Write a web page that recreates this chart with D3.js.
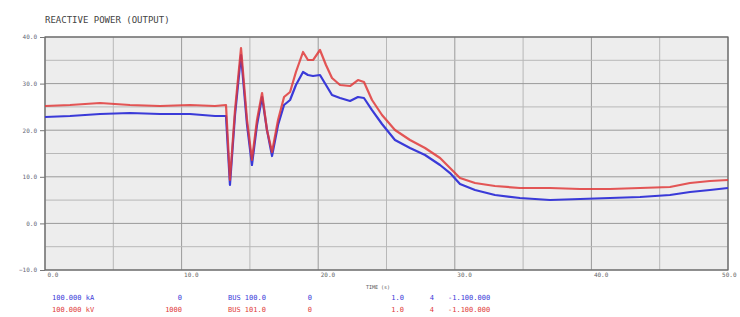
<!DOCTYPE html>
<html>
<head>
<meta charset="utf-8">
<script src="https://cdn.jsdelivr.net/npm/d3@7"></script>
<style>
  body { margin: 0; background: #fff; }
  text { font-family: "DejaVu Sans Mono", monospace; }
</style>
</head>
<body>
<svg id="chart"></svg>
<script>
const times = [0, 1.83, 4.03, 6.22, 8.42, 10.61, 12.44, 13.25, 13.54, 13.91, 14.35, 14.79, 15.15, 15.52, 15.89, 16.25, 16.62, 17.06, 17.5, 17.94, 18.37, 18.89, 19.25, 19.62, 20.13, 20.57, 21.01, 21.6, 22.33, 22.91, 23.35, 23.94, 24.67, 25.62, 26.72, 27.82, 28.92, 29.65, 30.38, 31.48, 32.94, 34.77, 36.97, 39.17, 41.36, 43.56, 45.75, 47.22, 48.68, 50];
const redValues = [25.19, 25.41, 25.84, 25.41, 25.19, 25.41, 25.19, 25.41, 9.31, 24.33, 37.64, 22.19, 13.61, 22.19, 27.98, 20.04, 15.32, 22.19, 27.12, 28.2, 32.49, 36.78, 35.06, 35.06, 37.21, 33.99, 31.2, 29.7, 29.48, 30.77, 30.34, 26.48, 23.26, 20.04, 17.9, 16.18, 14.03, 11.88, 9.74, 8.67, 8.02, 7.6, 7.6, 7.38, 7.38, 7.6, 7.81, 8.67, 9.1, 9.31];
const blueValues = [22.83, 23.05, 23.48, 23.69, 23.48, 23.48, 23.05, 23.05, 8.24, 23.26, 36.14, 21.12, 12.53, 21.12, 27.12, 20.04, 14.46, 21.12, 25.41, 26.48, 29.7, 32.49, 31.85, 31.63, 31.85, 29.7, 27.55, 26.91, 26.27, 27.12, 26.91, 24.33, 21.33, 17.9, 16.18, 14.68, 12.53, 10.81, 8.45, 7.17, 6.09, 5.45, 5.02, 5.24, 5.45, 5.67, 6.09, 6.74, 7.17, 7.6];
const xTicks = [0, 10, 20, 30, 40, 50];
const yTicks = [-10, 0, 10, 20, 30, 40];
const legendRows = [
  ["100.000 kA", "0", "BUS 100.0", "0", "1.0", "4", "-1.100.000"],
  ["100.000 kV", "1000", "BUS 101.0", "0", "1.0", "4", "-1.100.000"]
];
const seriesColors = ["#3a3ad8", "#e03a3a"];

const width = 740, height = 317;
const plotLeft = 45, plotRight = 728, plotTop = 37, plotBottom = 270;

const svg = d3.select("#chart").attr("width", width).attr("height", height);

const x = d3.scaleLinear().domain([0, 50]).range([plotLeft, plotRight]);
const y = d3.scaleLinear().domain([-10, 40]).range([plotBottom, plotTop]);

svg.append("rect")
  .attr("x", plotLeft).attr("y", plotTop)
  .attr("width", plotRight - plotLeft).attr("height", plotBottom - plotTop)
  .attr("fill", "#ededed");

// grid: minor every 5, major every 10
const xGrid = d3.range(0, 50.01, 5);
const yGrid = d3.range(-10, 40.01, 5);

svg.append("g").selectAll("line").data(xGrid).enter().append("line")
  .attr("x1", d => x(d)).attr("x2", d => x(d))
  .attr("y1", plotTop).attr("y2", plotBottom)
  .attr("stroke", d => d % 10 === 0 ? "#9a9a9a" : "#b8b8b8")
  .attr("stroke-width", 1);

svg.append("g").selectAll("line").data(yGrid).enter().append("line")
  .attr("x1", plotLeft).attr("x2", plotRight)
  .attr("y1", d => y(d)).attr("y2", d => y(d))
  .attr("stroke", d => d % 10 === 0 ? "#9a9a9a" : "#b8b8b8")
  .attr("stroke-width", 1);

svg.append("rect")
  .attr("x", plotLeft).attr("y", plotTop)
  .attr("width", plotRight - plotLeft).attr("height", plotBottom - plotTop)
  .attr("fill", "none").attr("stroke", "#666").attr("stroke-width", 1.2);

const yAxis = d3.axisLeft(y).tickValues(yTicks).tickSize(5).tickFormat(d3.format(".1f"));
const gy = svg.append("g").attr("transform", `translate(${plotLeft},0)`).call(yAxis);
gy.select(".domain").remove();
gy.selectAll("line").attr("stroke", "#777");
gy.selectAll("text").attr("fill", "#667").attr("font-size", 6);

const xAxis = d3.axisBottom(x).tickValues(xTicks).tickSize(0).tickFormat(d3.format(".1f"));
const gx = svg.append("g").attr("transform", `translate(0,${plotBottom})`).call(xAxis);
gx.select(".domain").remove();
gx.selectAll("text").attr("fill", "#666").attr("font-size", 6)
  .attr("text-anchor", (d, i) => i === xTicks.length - 1 ? "end" : "start")
  .attr("dx", (d, i) => i === xTicks.length - 1 ? 8 : 2)
  .attr("dy", 4);

const line = d3.line().x((d, i) => x(times[i])).y(d => y(d));

svg.append("path").datum(blueValues)
  .attr("d", line).attr("fill", "none")
  .attr("stroke", seriesColors[0]).attr("stroke-width", 2.2).attr("stroke-linejoin", "round");

svg.append("path").datum(redValues)
  .attr("d", line).attr("fill", "none")
  .attr("stroke", seriesColors[1]).attr("stroke-width", 2.2).attr("stroke-linejoin", "round")
  .attr("opacity", 0.85);

svg.append("text")
  .attr("x", plotLeft).attr("y", 23)
  .attr("font-size", 9).attr("fill", "#444")
  .text("REACTIVE POWER (OUTPUT)");

svg.append("text")
  .attr("x", 378).attr("y", 289)
  .attr("text-anchor", "middle")
  .attr("font-size", 5).attr("fill", "#555")
  .text("TIME (s)");

const colX = [52, 182, 228, 312, 404, 434, 448];
const colAnchor = ["start", "end", "start", "end", "end", "end", "start"];

legendRows.forEach((row, r) => {
  row.forEach((t, c) => {
    svg.append("text")
      .attr("x", colX[c]).attr("y", 300 + r * 12)
      .attr("text-anchor", colAnchor[c])
      .attr("font-size", 7)
      .attr("fill", seriesColors[r])
      .text(t);
  });
});
</script>
</body>
</html>
